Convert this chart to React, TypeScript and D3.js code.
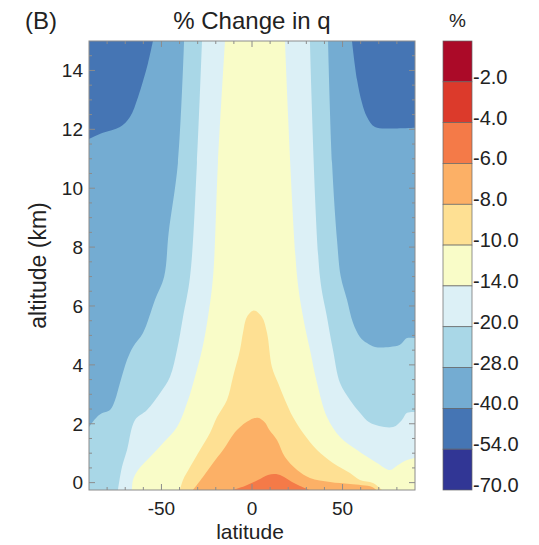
import { useEffect, useRef } from "react";
import * as d3 from "d3";

// colour bar classes, top to bottom
const levelLabels = ["-2.0", "-4.0", "-6.0", "-8.0", "-10.0", "-14.0", "-20.0", "-28.0", "-40.0", "-54.0", "-70.0"];
const levelColors = ["#ab0a28", "#dc3a2b", "#f47a48", "#fcb066", "#fee093", "#f9fcc8", "#dcf0f6", "#a9d7e7", "#74acd2", "#4575b4", "#313695"];

const xTicks = [-50, 0, 50];
const yTicks = [0, 2, 4, 6, 8, 10, 12, 14];

// contour edges, [latitude, altitude km]
// bands: left edge top->bottom, right edge bottom->top
const edge40L = [[-54.7, 15], [-57.4, 14.25], [-62.9, 13.1], [-67.4, 12.42], [-72.9, 12.08], [-82.3, 11.88], [-90, 11.67]];
const edge40R = [[90, 12.05], [79, 12.03], [67.9, 12.08], [63.5, 12.42], [60.7, 12.9], [58, 13.68], [55.2, 15]];

const edge28L = [[-37.5, 15], [-40.9, 10.86], [-46, 8.5], [-48.5, 7.0], [-53.6, 6.2], [-60.2, 5.08], [-65.7, 4.61], [-69, 4.17], [-72.9, 3.38], [-75.6, 2.81], [-78.4, 2.47], [-82.3, 2.37], [-85.6, 2.23], [-90, 1.89]];
const edge28R = [[90, 4.91], [85.6, 4.91], [81.7, 4.68], [76.2, 4.61], [67.9, 4.61], [63.5, 4.74], [59.6, 4.95], [55.8, 5.42], [52.5, 6.2], [49, 7.0], [47, 8.2], [44.2, 10.86], [42, 15]];

const edge20L = [[-27.6, 15], [-30.4, 10.86], [-34.2, 7.0], [-38.1, 5.63], [-41.4, 4.51], [-45.3, 3.59], [-50.8, 3.04], [-58, 2.47], [-64.6, 2.13], [-69, 1.11], [-71.8, 0.53], [-74, -0.25]];
const edge20R = [[90, 2.4], [85.6, 2.37], [82.8, 2.13], [77.9, 1.89], [65.2, 2.03], [59.6, 2.37], [54.1, 2.81], [48.6, 3.38], [44.7, 4.51], [41.4, 5.63], [37.5, 7.0], [32, 15]];

const edge14L = [[-14.9, 15], [-18.8, 10.86], [-21.5, 7.0], [-24.3, 5.63], [-27.6, 4.51], [-31.5, 3.59], [-35.3, 2.81], [-41.4, 1.89], [-49.1, 1.35], [-56.3, 0.87], [-62.9, 0.43], [-65.7, 0.09], [-66.3, -0.25]];
const edge14R = [[90, 0.84], [85.6, 0.77], [80.6, 0.6], [76.2, 0.43], [69, 0.67], [58, 1.11], [48.6, 1.55], [41.4, 2.23], [35.9, 3.38], [32, 4.51], [28.2, 5.63], [24.9, 7.0], [18.2, 15]];

// caps sitting on the ground, left bottom -> peak -> right bottom
const cap10 = [[-39.8, -0.25], [-38.1, 0.09], [-34.2, 0.53], [-28.7, 1.11], [-23.2, 1.69], [-19.3, 2.23], [-13.8, 2.81], [-10.5, 3.59], [-6.6, 4.51], [-5, 5.08], [-2.8, 5.63], [1, 5.85], [5.5, 5.63], [8.3, 5.08], [11, 3.93], [14.4, 3.38], [18.2, 2.81], [22.6, 2.23], [28.2, 1.69], [35.9, 1.11], [44.7, 0.67], [54.1, 0.33], [59.6, 0.09], [66.8, -0.01], [71.8, -0.25]];
const cap8 = [[-32.6, -0.25], [-27.1, 0.19], [-21.5, 0.67], [-16, 1.11], [-8.3, 1.79], [-1.1, 2.13], [3.3, 2.2], [7, 2.05], [9.5, 1.8], [13.8, 1.45], [18.2, 0.87], [24.9, 0.43], [32, 0.16], [43.1, 0.02], [54.1, -0.05], [66.3, -0.15], [68.5, -0.25]];
const cap6 = [[-11, -0.25], [-3.9, -0.11], [3.3, 0.09], [8.8, 0.26], [13.3, 0.29], [17.7, 0.19], [22.1, 0.02], [26.5, -0.11], [32, -0.25]];

const App = () => {
  const svgRef = useRef<SVGSVGElement>(null);

  useEffect(() => {
    const svg = d3.select(svgRef.current);
    svg.selectAll("*").remove();

    const width = 539;
    const height = 545;
    const plot = { left: 89, right: 415, top: 41, bottom: 490 };
    const font = "Arial, 'Liberation Sans', sans-serif";

    const x = d3.scaleLinear().domain([-90, 90]).range([plot.left, plot.right]);
    const y = d3.scaleLinear().domain([-0.25, 15]).range([plot.bottom, plot.top]);
    const yMin = -0.25;

    svg.attr("width", width).attr("height", height);

    const line = d3
      .line<number[]>()
      .x((d) => x(d[0]))
      .y((d) => y(d[1]))
      .curve(d3.curveCatmullRom.alpha(0.5));

    // band between a left and a right edge, closed along the frame
    const bandPath = (left: number[][], right: number[][]) => {
      let d = line(left) as string;
      const le = left[left.length - 1];
      const rs = right[0];
      if (le[0] <= -90 && le[1] > yMin) d += `L${x(-90)},${y(yMin)}`;
      if (rs[0] >= 90 && rs[1] > yMin) d += `L${x(90)},${y(yMin)}`;
      d += "L" + (line(right) as string).slice(1);
      return d + "Z";
    };
    const capPath = (pts: number[][]) => (line(pts) as string) + "Z";

    svg
      .append("defs")
      .append("clipPath")
      .attr("id", "frame")
      .append("rect")
      .attr("x", plot.left)
      .attr("y", plot.top)
      .attr("width", plot.right - plot.left)
      .attr("height", plot.bottom - plot.top);

    const field = svg.append("g").attr("clip-path", "url(#frame)");

    field
      .append("rect")
      .attr("x", plot.left)
      .attr("y", plot.top)
      .attr("width", plot.right - plot.left)
      .attr("height", plot.bottom - plot.top)
      .attr("fill", levelColors[9]);

    const bands = [
      { l: edge40L, r: edge40R, c: levelColors[8] },
      { l: edge28L, r: edge28R, c: levelColors[7] },
      { l: edge20L, r: edge20R, c: levelColors[6] },
      { l: edge14L, r: edge14R, c: levelColors[5] },
    ];
    bands.forEach((b) => {
      field.append("path").attr("d", bandPath(b.l, b.r)).attr("fill", b.c);
    });

    const caps = [
      { p: cap10, c: levelColors[4] },
      { p: cap8, c: levelColors[3] },
      { p: cap6, c: levelColors[2] },
    ];
    caps.forEach((k) => {
      field.append("path").attr("d", capPath(k.p)).attr("fill", k.c);
    });

    // frame
    svg
      .append("rect")
      .attr("x", plot.left)
      .attr("y", plot.top)
      .attr("width", plot.right - plot.left)
      .attr("height", plot.bottom - plot.top)
      .attr("fill", "none")
      .attr("stroke", "#8c8c8c")
      .attr("stroke-width", 1);

    // inward ticks
    const ticks = svg.append("g").attr("stroke", "#8c8c8c").attr("stroke-width", 1);
    d3.range(0, 15, 0.5).forEach((v) => {
      const len = v % 2 === 0 ? 6 : 3;
      ticks.append("line").attr("x1", plot.left).attr("x2", plot.left + len).attr("y1", y(v)).attr("y2", y(v));
      ticks.append("line").attr("x1", plot.right).attr("x2", plot.right - len).attr("y1", y(v)).attr("y2", y(v));
    });
    d3.range(-80, 90, 10).forEach((v) => {
      const len = v % 50 === 0 ? 6 : 3;
      ticks.append("line").attr("x1", x(v)).attr("x2", x(v)).attr("y1", plot.bottom).attr("y2", plot.bottom - len);
      ticks.append("line").attr("x1", x(v)).attr("x2", x(v)).attr("y1", plot.top).attr("y2", plot.top + len);
    });

    // tick labels
    svg
      .append("g")
      .selectAll("text")
      .data(yTicks)
      .join("text")
      .attr("x", 83)
      .attr("y", (d) => y(d))
      .attr("dy", "0.36em")
      .attr("text-anchor", "end")
      .attr("font-family", font)
      .attr("font-size", 19)
      .attr("fill", "#222")
      .text((d) => d);

    svg
      .append("g")
      .selectAll("text")
      .data(xTicks)
      .join("text")
      .attr("x", (d) => x(d))
      .attr("y", 515)
      .attr("text-anchor", "middle")
      .attr("font-family", font)
      .attr("font-size", 19)
      .attr("fill", "#222")
      .text((d) => d);

    // titles
    svg
      .append("text")
      .attr("x", 250)
      .attr("y", 539)
      .attr("text-anchor", "middle")
      .attr("font-family", font)
      .attr("font-size", 21)
      .attr("fill", "#222")
      .text("latitude");

    svg
      .append("text")
      .attr("transform", `translate(46,${(plot.top + plot.bottom) / 2}) rotate(-90)`)
      .attr("text-anchor", "middle")
      .attr("font-family", font)
      .attr("font-size", 23)
      .attr("fill", "#222")
      .text("altitude (km)");

    svg
      .append("text")
      .attr("x", 252)
      .attr("y", 29)
      .attr("text-anchor", "middle")
      .attr("font-family", font)
      .attr("font-size", 24)
      .attr("fill", "#222")
      .text("% Change in q");

    svg
      .append("text")
      .attr("x", 25)
      .attr("y", 29)
      .attr("font-family", font)
      .attr("font-size", 24)
      .attr("fill", "#222")
      .text("(B)");

    // colour bar
    const bar = d3.scaleBand<string>().domain(levelLabels).range([plot.top, plot.bottom]);
    const barX = 443;
    const barW = 29;
    const legend = svg.append("g");
    legend
      .selectAll("rect")
      .data(levelLabels)
      .join("rect")
      .attr("x", barX)
      .attr("y", (d) => bar(d) as number)
      .attr("width", barW)
      .attr("height", bar.bandwidth())
      .attr("fill", (_d, i) => levelColors[i])
      .attr("stroke", "#666")
      .attr("stroke-width", 0.7);

    legend
      .selectAll("text")
      .data(levelLabels)
      .join("text")
      .attr("x", barX + barW + 1)
      .attr("y", (d) => (bar(d) as number) + bar.bandwidth())
      .attr("dy", "0.1em")
      .attr("font-family", font)
      .attr("font-size", 20)
      .attr("fill", "#222")
      .text((d) => d);

    svg
      .append("text")
      .attr("x", barX + barW / 2)
      .attr("y", 27)
      .attr("text-anchor", "middle")
      .attr("font-family", font)
      .attr("font-size", 19)
      .attr("fill", "#222")
      .text("%");
  }, []);

  return <svg ref={svgRef} style={{ position: "absolute", left: 0, top: 0, background: "#fff" }}></svg>;
};

export default App;
